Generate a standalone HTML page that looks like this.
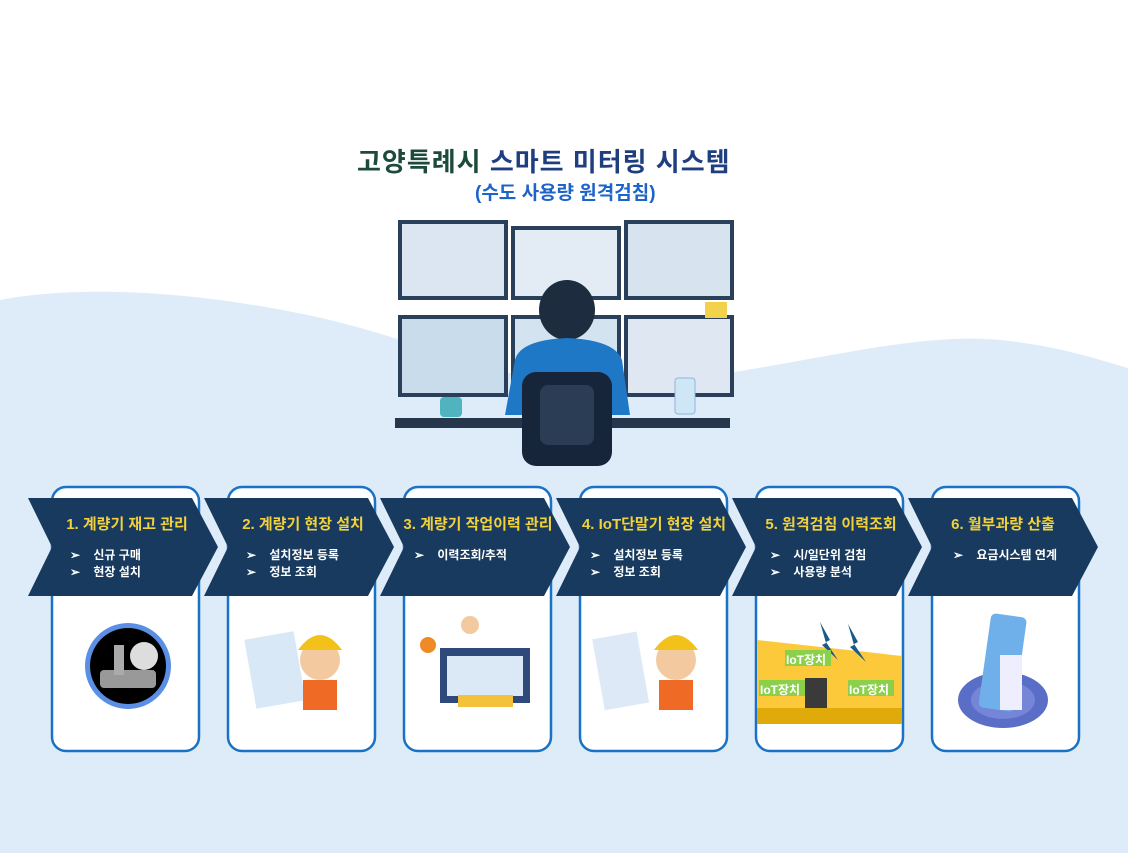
<!DOCTYPE html>
<html><head><meta charset="utf-8"><style>
html,body{margin:0;padding:0;width:1128px;height:853px;overflow:hidden;background:#fff;font-family:"Liberation Sans","Noto Sans CJK KR",sans-serif}
.abs{position:absolute}
.t{position:absolute;color:#f2d13a;font-weight:bold;font-size:15px;white-space:nowrap;text-align:center}
.l{position:absolute;color:#fff;font-size:12px;font-weight:bold;white-space:pre;line-height:17px}
</style></head><body>
<svg class="abs" style="left:0;top:0" width="1128" height="853">
<path d="M0,300 C80,285 200,290 330,320 C450,350 520,390 620,385 C760,378 900,330 1000,340 C1060,346 1100,360 1128,368 L1128,853 L0,853 Z" fill="#deebf9"/>
<g>
<rect x="398" y="220" width="110" height="80" fill="#2a3f5a"/><rect x="402" y="224" width="102" height="72" fill="#dbe6f2"/>
<rect x="511" y="226" width="110" height="74" fill="#2a3f5a"/><rect x="515" y="230" width="102" height="66" fill="#e3ecf5"/>
<rect x="624" y="220" width="110" height="80" fill="#2a3f5a"/><rect x="628" y="224" width="102" height="72" fill="#d7e4f0"/>
<rect x="398" y="315" width="110" height="82" fill="#2a3f5a"/><rect x="402" y="319" width="102" height="74" fill="#c9dcec"/>
<rect x="511" y="315" width="110" height="80" fill="#2a3f5a"/><rect x="515" y="319" width="102" height="72" fill="#d3e3f0"/>
<rect x="624" y="315" width="110" height="82" fill="#2a3f5a"/><rect x="628" y="319" width="102" height="74" fill="#dfe8f2"/>
<rect x="395" y="418" width="335" height="10" fill="#27364a"/>
<ellipse cx="567" cy="310" rx="28" ry="30" fill="#1d2d3f"/>
<path d="M515,360 Q520,340 567,338 Q615,340 622,360 L630,415 L505,415 Z" fill="#1e78c6"/>
<rect x="522" y="372" width="90" height="94" rx="14" fill="#17253a"/>
<rect x="540" y="385" width="54" height="60" rx="8" fill="#2b3c55"/>
<rect x="440" y="397" width="22" height="20" rx="4" fill="#4fb4c0"/>
<rect x="675" y="378" width="20" height="36" rx="3" fill="#cfe6f7" stroke="#8fb6d8"/>
<rect x="705" y="302" width="22" height="16" fill="#f1d24a"/>
</g>
<g fill="#fff" stroke="#1873c6" stroke-width="2.5">
<rect x="52" y="487" width="147" height="264" rx="14"/>
<rect x="228" y="487" width="147" height="264" rx="14"/>
<rect x="404" y="487" width="147" height="264" rx="14"/>
<rect x="580" y="487" width="147" height="264" rx="14"/>
<rect x="756" y="487" width="147" height="264" rx="14"/>
<rect x="932" y="487" width="147" height="264" rx="14"/>
</g>
<g fill="#173a5e">
<path d="M28,498 L192,498 L218,547 L192,596 L28,596 L52,547 Z"/>
<path d="M204,498 L368,498 L394,547 L368,596 L204,596 L228,547 Z"/>
<path d="M380,498 L544,498 L570,547 L544,596 L380,596 L404,547 Z"/>
<path d="M556,498 L720,498 L746,547 L720,596 L556,596 L580,547 Z"/>
<path d="M732,498 L896,498 L922,547 L896,596 L732,596 L756,547 Z"/>
<path d="M908,498 L1072,498 L1098,547 L1072,596 L908,596 L932,547 Z"/>
</g>
<circle cx="128" cy="666" r="43" fill="#5b8fe6"/><circle cx="128" cy="666" r="38" fill="#000"/>
<rect x="100" y="670" width="56" height="18" rx="4" fill="#999"/><rect x="114" y="645" width="10" height="30" fill="#aaa"/><circle cx="144" cy="656" r="14" fill="#ddd"/>
<rect x="250" y="635" width="50" height="70" fill="#d8e8f7" transform="rotate(-10 275 670)"/>
<circle cx="320" cy="660" r="20" fill="#f3c9a0"/><path d="M298,650 Q320,620 342,650 Z" fill="#f2c21b"/><rect x="303" y="680" width="34" height="30" fill="#ef6a25"/>
<rect x="440" y="648" width="90" height="55" fill="#2f4a7a"/><rect x="447" y="656" width="76" height="40" fill="#dbe8f5"/><rect x="458" y="695" width="55" height="12" fill="#f3c23a"/>
<circle cx="428" cy="645" r="8" fill="#f08a24"/><circle cx="470" cy="625" r="9" fill="#f3c9a0"/>
<rect x="598" y="635" width="45" height="72" fill="#dde9f6" transform="rotate(-10 620 670)"/>
<circle cx="676" cy="660" r="20" fill="#f3c9a0"/><path d="M654,650 Q676,620 698,650 Z" fill="#f2c21b"/><rect x="659" y="680" width="34" height="30" fill="#ef6a25"/>
<path d="M757,640 L902,656 L902,724 L757,724 Z" fill="#fcc93a"/><rect x="757" y="708" width="145" height="16" fill="#e0aa0a"/>
<rect x="805" y="678" width="22" height="30" fill="#3a3a3a"/>
<path d="M820,622 L830,640 L826,642 L838,660 L822,645 L826,643 Z" fill="#1b5a86"/><path d="M848,624 L858,642 L854,644 L866,662 L850,647 L854,645 Z" fill="#1b5a86"/>
<rect x="785" y="650" width="46" height="16" fill="#8ad04a"/><rect x="759" y="680" width="46" height="16" fill="#8ad04a"/><rect x="848" y="680" width="46" height="16" fill="#8ad04a"/>
<ellipse cx="1003" cy="700" rx="45" ry="28" fill="#5b6ec7"/><ellipse cx="1003" cy="700" rx="32" ry="19" fill="#7586d8"/>
<rect x="985" y="615" width="36" height="95" rx="5" fill="#6fb0ea" transform="rotate(8 1003 660)"/><rect x="1000" y="655" width="22" height="55" fill="#eef" />
</svg>
<div class="abs" style="left:357px;top:142px;font-size:26px;font-weight:bold;color:#1c4b3c;white-space:nowrap;letter-spacing:1px">고양특례시 <span style="color:#1e3e80">스마트 미터링 시스템</span></div>
<div class="abs" style="left:475px;top:178px;font-size:19px;font-weight:bold;color:#1d64c8;white-space:nowrap">(수도 사용량 원격검침)</div>

<div class="t" style="left:52px;top:513px;width:150px">1. 계량기 재고 관리</div>
<div class="t" style="left:228px;top:513px;width:150px">2. 계량기 현장 설치</div>
<div class="t" style="left:396px;top:513px;width:164px">3. 계량기 작업이력 관리</div>
<div class="t" style="left:572px;top:513px;width:164px">4. IoT단말기 현장 설치</div>
<div class="t" style="left:756px;top:513px;width:150px">5. 원격검침 이력조회</div>
<div class="t" style="left:928px;top:513px;width:150px">6. 월부과량 산출</div>

<div class="l" style="left:70px;top:547px">➢    신규 구매
➢    현장 설치</div>
<div class="l" style="left:246px;top:547px">➢    설치정보 등록
➢    정보 조회</div>
<div class="l" style="left:414px;top:547px">➢    이력조회/추적</div>
<div class="l" style="left:590px;top:547px">➢    설치정보 등록
➢    정보 조회</div>
<div class="l" style="left:770px;top:547px">➢    시/일단위 검침
➢    사용량 분석</div>
<div class="l" style="left:953px;top:547px">➢    요금시스템 연계</div>

<div class="abs" style="left:786px;top:651px;font-size:12px;font-weight:bold;color:#fff">IoT장치</div>
<div class="abs" style="left:760px;top:681px;font-size:12px;font-weight:bold;color:#fff">IoT장치</div>
<div class="abs" style="left:849px;top:681px;font-size:12px;font-weight:bold;color:#fff">IoT장치</div>
</body></html>
